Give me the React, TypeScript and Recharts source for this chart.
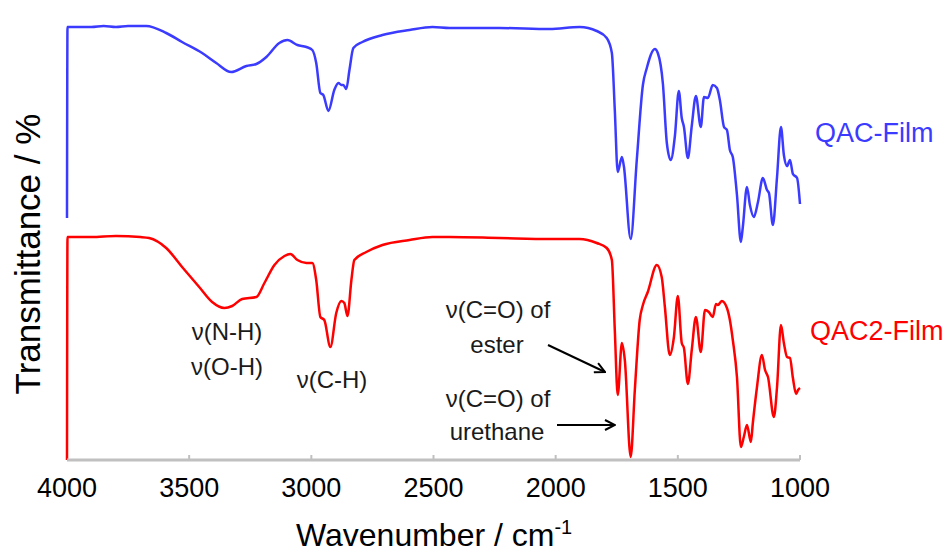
import { Line, LineChart, XAxis, YAxis } from "recharts";

// wavenumber axis, cm-1 (reversed: 4000 on the left)
const wavenumberTicks = [4000, 3500, 3000, 2500, 2000, 1500, 1000];

// QAC-Film (upper trace), transmittance in offset arbitrary units
const qacWavenumber = [
  4000, 3998, 3950, 3900, 3850, 3800, 3750, 3700, 3676, 3594, 3529, 3447, 3389, 3328, 3266, 3225, 3184, 3131,
  3098, 3057, 3020, 2996, 2980, 2963, 2951, 2930, 2906, 2889, 2877, 2869, 2857, 2844, 2828, 2791, 2709, 2598,
  2504, 2434, 2230, 2025, 1902, 1832, 1791, 1770, 1758, 1746, 1729, 1721, 1693, 1668, 1643, 1627, 1594, 1582,
  1561, 1545, 1529, 1512, 1496, 1484, 1475, 1459, 1443, 1426, 1406, 1393, 1377, 1357, 1340, 1328, 1311, 1299,
  1287, 1275, 1258, 1242, 1234, 1217, 1205, 1189, 1172, 1152, 1135, 1127, 1111, 1094, 1078, 1066, 1053, 1041,
  1029, 1012, 1000,
];
const qacSignal = [
  242, 433, 433, 433, 434, 433, 434, 434, 434, 427, 418, 407, 397, 388, 394, 396, 403, 417,
  420, 415, 413, 410, 397, 367, 365, 349, 370, 377, 375, 375, 371, 390, 412, 418, 425, 430,
  433, 432, 432, 431, 433, 429, 422, 407, 350, 288, 303, 294, 221, 300, 375, 392, 411, 407,
  376, 317, 300, 324, 369, 342, 333, 302, 334, 364, 333, 363, 362, 375, 372, 360, 333, 330,
  310, 303, 265, 218, 233, 273, 255, 243, 258, 282, 270, 267, 235, 283, 333, 305, 294, 300,
  286, 282, 256,
];

// QAC2-Film (lower trace)
const qac2Wavenumber = [
  4000, 3998, 3900, 3800, 3700, 3664, 3594, 3529, 3459, 3406, 3356, 3324, 3283, 3225, 3192, 3151, 3110, 3086,
  3057, 3020, 2996, 2980, 2963, 2947, 2922, 2898, 2877, 2865, 2852, 2836, 2824, 2775, 2709, 2598, 2504, 2434,
  2230, 2025, 1902, 1832, 1791, 1770, 1758, 1746, 1729, 1717, 1693, 1676, 1656, 1643, 1623, 1586, 1566, 1553,
  1533, 1516, 1500, 1484, 1475, 1459, 1443, 1426, 1406, 1389, 1373, 1357, 1344, 1336, 1320, 1299, 1287, 1275,
  1258, 1242, 1230, 1217, 1201, 1193, 1176, 1156, 1143, 1131, 1107, 1094, 1078, 1066, 1053, 1041, 1029, 1016,
  1008, 1000,
];
const qac2Signal = [
  0, 223, 223, 224, 223, 222, 212, 193, 173, 158, 152, 154, 161, 163, 177, 195, 204, 206,
  200, 197, 197, 180, 143, 140, 113, 147, 159, 157, 144, 180, 200, 208, 215, 220, 223, 223,
  222, 221, 221, 217, 212, 200, 130, 65, 117, 100, 3, 70, 140, 155, 168, 195, 183, 153,
  105, 123, 164, 117, 112, 76, 110, 143, 108, 150, 148, 143, 156, 155, 159, 152, 140, 120,
  83, 13, 23, 35, 18, 37, 73, 105, 90, 83, 43, 73, 135, 117, 103, 102, 82, 66,
  70, 72,
];

const qacData = qacWavenumber.map((wn, i) => ({ wn, t: qacSignal[i] }));
const qac2Data = qac2Wavenumber.map((wn, i) => ({ wn, t: qac2Signal[i] }));

const BLUE = "#3b3bff";
const RED = "#ff0000";
const GRID = "#c0c0c0";
const FONT = "'Liberation Sans', Arial, sans-serif";

function WavenumberTick({ x, y, payload }: any) {
  return (
    <g>
      {payload.value !== 4000 && <line x1={x} x2={x} y1={y} y2={y - 5} stroke={GRID} strokeWidth={2} />}
      <text x={x} y={y + 37} textAnchor="middle" fontSize={27} fill="#000" fontFamily={FONT}>
        {payload.value}
      </text>
    </g>
  );
}

export default function App() {
  return (
    <div style={{ position: "absolute", left: 0, top: 0, width: 949, height: 553, background: "#fff", fontFamily: FONT }}>
      <LineChart width={949} height={553} margin={{ top: 12, right: 149, bottom: 0, left: 67 }}>
        <XAxis
          dataKey="wn"
          type="number"
          domain={[1000, 4000]}
          reversed
          ticks={wavenumberTicks}
          interval={0}
          height={93}
          tickSize={0}
          tickMargin={0}
          tickLine={false}
          axisLine={{ stroke: GRID, strokeWidth: 3 }}
          tick={<WavenumberTick />}
        />
        <YAxis
          type="number"
          domain={[0, 448]}
          width={0}
          tick={false}
          tickLine={false}
          axisLine={{ stroke: GRID, strokeWidth: 3 }}
          allowDataOverflow
        />
        <Line
          data={qacData}
          dataKey="t"
          type="monotoneX"
          stroke={BLUE}
          strokeWidth={2.5}
          dot={false}
          activeDot={false}
          isAnimationActive={false}
        />
        <Line
          data={qac2Data}
          dataKey="t"
          type="monotoneX"
          stroke={RED}
          strokeWidth={2.5}
          dot={false}
          activeDot={false}
          isAnimationActive={false}
        />
      </LineChart>
      <svg
        width={949}
        height={553}
        style={{ position: "absolute", left: 0, top: 0, pointerEvents: "none" }}
        fontFamily={FONT}
      >
        <defs>
          <marker id="arrow" viewBox="0 0 12 12" refX="11" refY="6" markerWidth="12" markerHeight="12" orient="auto" markerUnits="userSpaceOnUse">
            <path d="M1,1 L11,6 L1,11" fill="none" stroke="#000" strokeWidth={2} />
          </marker>
        </defs>
        <text x={40} y={254} transform="rotate(-90 40 254)" textAnchor="middle" fontSize={35} fill="#000">
          Transmittance / %
        </text>
        <text x={296} y={546} fontSize={32} fill="#000">
          Wavenumber / cm<tspan dy={-12} fontSize={20}>-1</tspan>
        </text>
        <text x={815} y={142} fontSize={27} fill={BLUE}>QAC-Film</text>
        <text x={810} y={340} fontSize={27} fill={RED}>QAC2-Film</text>
        <g fontSize={24} fill="#1a1a1a" textAnchor="middle">
          <text x={227} y={340}>ν(N-H)</text>
          <text x={227} y={375}>ν(O-H)</text>
          <text x={332} y={388}>ν(C-H)</text>
          <text x={498} y={318}>ν(C=O) of</text>
          <text x={497} y={353}>ester</text>
          <text x={498} y={407}>ν(C=O) of</text>
          <text x={497} y={440}>urethane</text>
        </g>
        <line x1={548} y1={345} x2={605} y2={372} stroke="#000" strokeWidth={2} markerEnd="url(#arrow)" />
        <line x1={557} y1={425} x2={615} y2={425} stroke="#000" strokeWidth={2} markerEnd="url(#arrow)" />
      </svg>
    </div>
  );
}
